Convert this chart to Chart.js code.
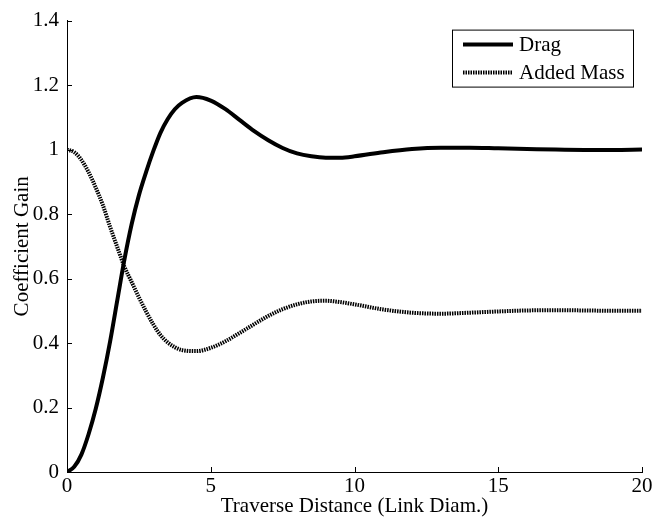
<!DOCTYPE html>
<html>
<head>
<meta charset="utf-8">
<script src="https://cdn.jsdelivr.net/npm/chart.js@4.4.1/dist/chart.umd.min.js"></script>
<style>
  html, body { margin: 0; padding: 0; background: #fff; }
  #wrap { width: 657px; height: 519px; }
</style>
</head>
<body>
<div id="wrap"><canvas id="gainChart" width="657" height="519"></canvas></div>
<script>
// distanza (diametri)
var distanza = [0, 0.25, 0.5, 0.75, 1, 1.25, 1.5, 1.75, 2, 2.25, 2.5, 2.75, 3, 3.25, 3.5, 3.75, 4,
                4.5, 5, 5.5, 6, 6.5, 7, 7.5, 8, 8.5, 9, 9.5, 10,
                11, 12, 13, 14, 15, 16, 17, 18, 19, 20];

var dragGain = [0, 0.016, 0.054, 0.117, 0.196, 0.293, 0.405, 0.533, 0.66, 0.769, 0.858, 0.93, 0.995, 1.052, 1.094, 1.125, 1.145,
                1.163, 1.152, 1.126, 1.092, 1.058, 1.029, 1.005, 0.988, 0.979, 0.975, 0.975, 0.979,
                0.992, 1.002, 1.006, 1.006, 1.004, 1.002, 1.000, 0.999, 0.999, 1.000];

var addedMassGain = [1.0, 0.992, 0.968, 0.93, 0.882, 0.827, 0.76, 0.697, 0.636, 0.589, 0.542, 0.498, 0.458, 0.425, 0.402, 0.387, 0.378,
                     0.375, 0.385, 0.405, 0.431, 0.458, 0.484, 0.505, 0.520, 0.529, 0.531, 0.527, 0.520,
                     0.504, 0.494, 0.491, 0.494, 0.498, 0.501, 0.502, 0.501, 0.500, 0.500];

var xTicks = [0, 5, 10, 15, 20];
var yTicks = [0, 0.2, 0.4, 0.6, 0.8, 1, 1.2, 1.4];

var serif = "'Liberation Serif', 'DejaVu Serif', serif";

function punti(xs, ys){
  var out = [];
  for (var i = 0; i < xs.length; i++) {
    out.push({x: xs[i], y: ys[i]});
  }
  return out;
}

// tacche verso l'interno, come nell'originale
var tacchePlugin = {
  id: 'tacche',
  afterDraw: function(chart){
    var ctx = chart.ctx;
    var area = chart.chartArea;
    var len = 5;
    ctx.save();
    ctx.strokeStyle = '#000';
    ctx.lineWidth = 1;
    ctx.beginPath();
    xTicks.forEach(function(v){
      var px = Math.round(chart.scales.x.getPixelForValue(v)) + 0.5;
      ctx.moveTo(px, area.bottom);
      ctx.lineTo(px, area.bottom - len);
    });
    yTicks.forEach(function(v){
      var py = Math.round(chart.scales.y.getPixelForValue(v)) + 0.5;
      ctx.moveTo(area.left, py);
      ctx.lineTo(area.left + len, py);
    });
    ctx.stroke();
    ctx.restore();
  }
};

// legenda dentro l'area del grafico, in alto a destra
var legendaPlugin = {
  id: 'legendaBox',
  afterDraw: function(chart){
    var ctx = chart.ctx;
    var area = chart.chartArea;
    var w = 181, h = 57;
    var x0 = area.right - 9 - w;
    var y0 = area.top + 9;
    ctx.save();
    ctx.fillStyle = '#fff';
    ctx.fillRect(x0, y0, w, h);
    ctx.strokeStyle = '#000';
    ctx.lineWidth = 1;
    ctx.strokeRect(x0 + 0.5, y0 + 0.5, w, h);
    ctx.font = "21px " + serif;
    ctx.textBaseline = 'middle';
    ctx.fillStyle = '#000';
    var righe = [y0 + 15, y0 + 43];
    chart.data.datasets.forEach(function(ds, i){
      ctx.beginPath();
      ctx.lineWidth = ds.borderWidth;
      ctx.setLineDash(ds.borderDash || []);
      ctx.moveTo(x0 + 11, righe[i]);
      ctx.lineTo(x0 + 61, righe[i]);
      ctx.stroke();
      ctx.setLineDash([]);
      ctx.fillText(ds.label, x0 + 67, righe[i] + 1);
    });
    ctx.restore();
  }
};

function drawGain(){
  var ctx = document.getElementById('gainChart').getContext('2d');
  var chart = new Chart(ctx, {
    type: 'line',
    data: {
      datasets: [{
        label: 'Drag',
        data: punti(distanza, dragGain),
        borderColor: '#000',
        borderWidth: 4,
        pointRadius: 0,
        cubicInterpolationMode: 'monotone',
        fill: false
      },
      {
        label: 'Added Mass',
        data: punti(distanza, addedMassGain),
        borderColor: '#000',
        borderWidth: 4,
        borderDash: [1.5, 1],
        pointRadius: 0,
        cubicInterpolationMode: 'monotone',
        fill: false
      }]
    },
    options: {
      responsive: false,
      animation: false,
      layout: { padding: { top: 19, right: 15, left: 0, bottom: 0 } },
      plugins: {
        legend: { display: false },
        tooltip: { enabled: false }
      },
      scales: {
        x: {
          type: 'linear',
          min: 0,
          max: 20,
          afterBuildTicks: function(scale){
            scale.ticks = xTicks.map(function(v){ return {value: v}; });
          },
          afterFit: function(scale){ scale.height = 47; },
          grid: { display: true, drawOnChartArea: false, drawTicks: false },
          border: { display: true, color: '#000', width: 1 },
          ticks: {
            color: '#000',
            padding: 2,
            maxRotation: 0,
            font: { family: serif, size: 21 }
          },
          title: {
            display: true,
            text: 'Traverse Distance (Link Diam.)',
            color: '#000',
            padding: { top: 0, bottom: 0 },
            font: { family: serif, size: 21 }
          }
        },
        y: {
          min: 0,
          max: 1.4,
          afterBuildTicks: function(scale){
            scale.ticks = yTicks.map(function(v){ return {value: v}; });
          },
          afterFit: function(scale){ scale.width = 67; },
          grid: { display: true, drawOnChartArea: false, drawTicks: false },
          border: { display: true, color: '#000', width: 1 },
          ticks: {
            color: '#000',
            padding: 8,
            font: { family: serif, size: 21 },
            callback: function(v){ return String(Math.round(v * 10) / 10); }
          },
          title: {
            display: true,
            text: 'Coefficient Gain',
            color: '#000',
            padding: { top: 10, bottom: 0 },
            font: { family: serif, size: 21 }
          }
        }
      }
    },
    plugins: [tacchePlugin, legendaPlugin]
  });
  return chart;
}

drawGain();
</script>
</body>
</html>
